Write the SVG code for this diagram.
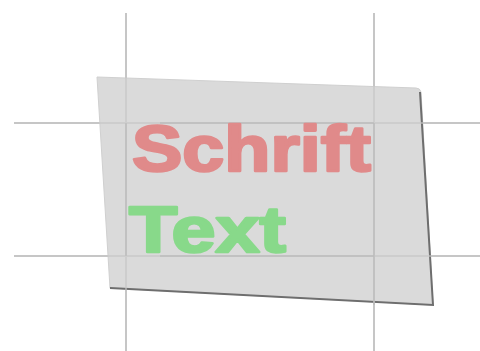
<svg xmlns="http://www.w3.org/2000/svg" width="480" height="351" viewBox="0 0 480 351">
<style>
.grid{stroke:#c6c6c6;stroke-width:2;fill:none}
.inner{stroke:#a8a8a8;stroke-width:1.5;fill:none;opacity:0.8}
.t{font-family:"Liberation Sans",Arial,sans-serif;font-weight:bold;font-size:65px;stroke-width:2.6;stroke-linejoin:round}
</style>
<rect width="480" height="351" fill="#ffffff"/>
<g id="grid-back">
<line class="grid" x1="126" y1="13" x2="126" y2="351"/>
<line class="grid" x1="374" y1="13" x2="374" y2="351"/>
<line class="grid" x1="14" y1="123" x2="480" y2="123"/>
<line class="grid" x1="14" y1="256" x2="480" y2="256"/>
</g>
<g id="sheet">
<path d="M97,77 L416,88 Q420,88 421,92 L433,305 L110,288 Z" fill="#dadada" stroke="#d0d0d0" stroke-width="1"/>
<path d="M420,92 L433,305 L110,288" fill="none" stroke="#6e6e6e" stroke-width="2"/>
<line class="inner" x1="126" y1="123" x2="126" y2="256"/>
<line class="inner" x1="374" y1="123" x2="374" y2="305"/>
<line class="inner" x1="160" y1="123" x2="374" y2="123"/>
<line class="inner" x1="160" y1="256" x2="374" y2="256"/>
</g>
<g id="grid-front" opacity="0.6">
<line class="grid" x1="126" y1="13" x2="126" y2="351"/>
<line class="grid" x1="374" y1="13" x2="374" y2="351"/>
<line class="grid" x1="14" y1="123" x2="480" y2="123"/>
<line class="grid" x1="14" y1="256" x2="480" y2="256"/>
</g>
<g id="labels">
<text class="t" x="132" y="171" fill="#e08a8a" stroke="#e08a8a" textLength="239" lengthAdjust="spacingAndGlyphs">Schrift</text>
<text class="t" x="129" y="252" fill="#88d98a" stroke="#88d98a" textLength="157" lengthAdjust="spacingAndGlyphs">Text</text>
</g>
</svg>
